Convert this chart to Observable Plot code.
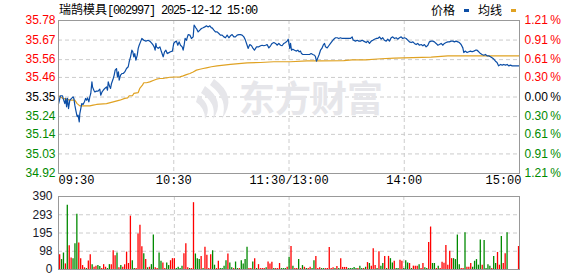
<!DOCTYPE html>
<html><head><meta charset="utf-8">
<script src="https://cdn.jsdelivr.net/npm/d3@7"></script>
<script src="https://cdn.jsdelivr.net/npm/@observablehq/plot@0.6"></script>
<style>
body{margin:0;background:#fff;}
#wrap{position:relative;width:578px;height:276px;overflow:hidden;font-family:"Liberation Sans",Arial,sans-serif;}
#main{position:absolute;left:0;top:0;}
#vol{position:absolute;left:0;top:190px;}
#title{position:absolute;left:59px;top:1px;line-height:16px;white-space:nowrap;color:#000;}
.cjk{font-family:"Noto Sans CJK SC",sans-serif;font-size:12px;}
.mono{font-family:"Liberation Mono",monospace;font-size:12px;letter-spacing:-1.2px;}
#legend{position:absolute;left:431px;top:2px;line-height:16px;white-space:nowrap;font-family:"Noto Sans CJK SC",sans-serif;font-size:12px;color:#000;}
#legend .sw{display:inline-block;width:5px;height:3px;vertical-align:middle;margin:0 9px 0 9px;position:relative;top:-1px;}
</style></head>
<body>
<div id="wrap">
  <div id="main"></div>
  <div id="vol"></div>
  <div id="title"></div>
  <div id="legend"></div>
</div>
<script>
// ---- data ----
const stockName = "瑞鹄模具";
const stockCode = "[002997]";
const stampText = " 2025-12-12 15:00";
const legendNames = ["价格", "均线"];
const prevClose = 35.35;

const priceTickValues = [35.78, 35.67, 35.56, 35.46, 35.35, 35.24, 35.14, 35.03, 34.92];
const priceTickLabels = ["35.78", "35.67", "35.56", "35.46", "35.35", "35.24", "35.14", "35.03", "34.92"];
const pctTickLabels = ["1.21\u2009%", "0.91\u2009%", "0.61\u2009%", "0.30\u2009%", "0.00\u2009%", "0.30\u2009%", "0.61\u2009%", "0.91\u2009%", "1.21\u2009%"];

const timeLabels = ["09:30", "10:30", "11:30/13:00", "14:00", "15:00"];
const timeLabelMinutes = [0, 60, 120, 180, 240];

const volTickValues = [390, 292.5, 195, 97.5, 0];
const volTickLabels = ["390", "293", "195", "98", "0"];

const priceMinutes = [0,1.0,2.1,2.4,3.3,3.8,4.2,4.7,5.2,5.9,6.8,7.6,8.0,8.5,9.0,9.7,10.2,10.8,11.1,11.6,12.1,12.8,13.5,14.1,14.6,15.1,15.8,16.3,16.8,17.4,17.7,18.4,18.9,19.8,20.6,21.5,22.0,22.7,23.3,24.1,25.0,25.5,25.9,26.4,26.7,27.1,27.6,28.5,29.0,29.5,30.2,30.7,31.2,31.6,32.3,33.0,33.7,34.5,35.4,36.3,36.8,37.5,38.2,38.7,39.2,39.7,40.3,41.0,41.5,42.0,42.7,43.4,44.4,45.5,46.7,47.9,48.6,49.3,49.8,50.3,50.7,51.0,51.9,52.8,53.6,54.5,55.2,55.9,56.6,57.3,58.3,59.3,60.0,60.7,61.4,62.1,62.8,63.5,64.4,64.9,65.4,65.9,66.6,67.5,68.4,69.2,70.1,70.6,71.5,71.8,72.7,73.6,74.4,75.3,76.2,77.0,77.9,78.8,79.6,80.0,80.9,81.7,82.6,83.5,84.3,85.2,86.1,86.9,87.8,88.7,89.5,90.4,91.3,92.1,93.0,93.9,94.7,95.6,96.5,97.3,98.2,98.7,99.6,100.5,101.3,102.0,103.1,104.3,105.2,106.0,106.9,107.8,108.6,109.5,110.4,111.2,112.1,113.0,113.8,114.7,115.6,116.4,117.3,118.2,119.0,119.6,120.1,120.4,120.8,121.3,122.0,122.9,123.7,124.6,125.3,126.0,126.5,127.2,128.1,129.4,130.7,131.5,132.4,133.3,133.8,134.3,135.0,135.7,136.4,137.1,137.8,138.5,139.0,139.9,140.7,141.6,142.5,143.3,144.2,145.1,145.9,146.8,147.7,148.5,152.0,152.9,153.4,154.6,155.5,156.4,157.2,158.1,158.9,160.2,161.0,161.9,162.8,163.6,164.5,165.4,166.2,167.1,168.0,168.8,169.7,170.6,171.4,172.3,173.2,174.0,174.9,175.8,176.6,177.5,178.4,179.2,180.1,181.0,181.8,182.7,183.6,184.5,185.3,186.2,187.0,187.9,188.8,189.7,190.5,191.4,192.3,193.1,194.0,194.9,195.7,196.6,197.5,198.3,199.2,200.1,200.9,201.8,202.7,203.5,204.4,205.3,206.1,207.0,207.9,208.7,209.6,210.5,211.0,211.7,212.7,213.6,214.5,215.3,216.2,217.1,217.9,218.8,219.7,220.5,221.4,222.3,223.1,224.0,224.9,225.7,226.6,227.5,228.3,229.1,230.1,231.0,231.8,232.7,233.6,234.4,235.3,236.2,240.0];
const priceValues = [35.31,35.357,35.357,35.342,35.313,35.342,35.295,35.342,35.285,35.332,35.342,35.351,35.342,35.304,35.276,35.239,35.248,35.210,35.257,35.285,35.313,35.308,35.323,35.342,35.332,35.345,35.323,35.351,35.370,35.435,35.407,35.388,35.379,35.383,35.383,35.394,35.360,35.379,35.388,35.398,35.407,35.388,35.435,35.417,35.407,35.398,35.426,35.454,35.473,35.501,35.510,35.463,35.491,35.445,35.473,35.482,35.482,35.491,35.510,35.520,35.548,35.576,35.613,35.604,35.576,35.594,35.557,35.585,35.623,35.641,35.660,35.679,35.669,35.664,35.669,35.660,35.651,35.641,35.632,35.613,35.651,35.632,35.623,35.632,35.604,35.576,35.604,35.613,35.594,35.598,35.604,35.608,35.651,35.660,35.664,35.641,35.660,35.641,35.632,35.613,35.641,35.679,35.669,35.701,35.698,35.679,35.688,35.754,35.739,35.735,35.716,35.726,35.735,35.739,35.744,35.750,35.744,35.750,35.739,35.739,35.726,35.716,35.716,35.707,35.698,35.698,35.688,35.683,35.698,35.683,35.694,35.701,35.688,35.688,35.698,35.701,35.701,35.698,35.688,35.670,35.641,35.623,35.645,35.638,35.623,35.613,35.632,35.632,35.638,35.641,35.638,35.641,35.645,35.626,35.638,35.651,35.656,35.651,35.641,35.651,35.641,35.638,35.651,35.656,35.664,35.675,35.641,35.623,35.651,35.613,35.619,35.613,35.608,35.613,35.604,35.608,35.594,35.589,35.589,35.589,35.589,35.594,35.589,35.585,35.576,35.551,35.570,35.589,35.613,35.623,35.641,35.651,35.632,35.626,35.638,35.651,35.664,35.675,35.683,35.683,35.679,35.683,35.679,35.679,35.679,35.688,35.670,35.664,35.669,35.664,35.664,35.669,35.664,35.656,35.664,35.651,35.664,35.669,35.675,35.679,35.679,35.688,35.675,35.683,35.669,35.664,35.675,35.664,35.683,35.688,35.679,35.683,35.675,35.683,35.688,35.679,35.683,35.679,35.670,35.660,35.656,35.660,35.651,35.645,35.651,35.641,35.645,35.638,35.645,35.632,35.641,35.660,35.664,35.664,35.660,35.651,35.641,35.645,35.651,35.641,35.651,35.656,35.660,35.660,35.664,35.664,35.660,35.664,35.660,35.656,35.645,35.626,35.600,35.608,35.600,35.604,35.608,35.604,35.608,35.613,35.613,35.604,35.594,35.589,35.585,35.589,35.581,35.581,35.576,35.570,35.563,35.551,35.544,35.525,35.533,35.529,35.533,35.529,35.533,35.525,35.529,35.525,35.525];

const avgMinutes = [0,2.4,5.9,8.5,9.7,11.1,16.3,18.0,19.8,25.0,28.5,31.9,34.5,36.0,36.8,38.5,39.2,41.5,42.3,43.7,44.4,45.8,47.5,49.3,51.0,52.8,54.5,56.2,58.0,63.2,64.9,66.6,68.4,70.1,71.8,73.6,75.3,77.0,79.6,82.6,89.5,98.2,105.2,112.1,120.8,129.4,136.4,148.5,152.9,159.8,168.0,174.9,194.0,202.7,240];
const avgValues = [35.357,35.342,35.332,35.332,35.313,35.300,35.300,35.304,35.308,35.313,35.323,35.332,35.342,35.345,35.357,35.357,35.370,35.375,35.398,35.417,35.430,35.430,35.435,35.443,35.450,35.454,35.454,35.458,35.461,35.463,35.469,35.476,35.482,35.491,35.501,35.506,35.510,35.514,35.520,35.525,35.533,35.542,35.544,35.548,35.548,35.553,35.553,35.555,35.559,35.559,35.565,35.568,35.574,35.581,35.581];

// per-minute volume (minute 0..240) and direction (1 up, -1 down)
const volumes = [79,53,88,30,343,127,61,58,137,295,141,58,21,9,5,46,79,26,12,18,21,16,5,26,12,5,26,26,100,74,88,9,21,12,26,93,32,285,47,5,5,190,237,121,84,53,9,12,26,184,9,5,88,44,35,5,35,21,47,58,58,5,12,5,18,84,137,9,5,5,357,83,58,53,70,5,119,76,5,79,100,23,5,44,5,5,18,47,83,35,9,5,40,5,5,47,30,53,119,5,5,40,58,5,26,5,5,5,9,40,30,39,5,5,5,32,5,5,5,12,65,
123,18,5,5,53,5,21,12,5,5,12,5,47,70,5,9,5,5,5,5,118,5,9,5,16,5,58,11,11,11,5,5,5,11,5,5,18,5,5,12,37,32,18,111,21,5,95,18,32,70,5,70,58,35,44,5,5,49,44,5,47,35,32,5,18,18,18,26,5,32,9,5,144,227,32,32,5,18,5,39,33,128,23,97,58,58,53,184,26,5,5,197,12,12,32,12,44,53,23,158,23,155,5,26,18,5,70,32,91,23,176,32,84,197,
0,0,0,0,0,123];
const volumeDirs = [1,-1,-1,1,-1,1,1,-1,-1,-1,1,1,1,1,-1,1,1,-1,1,1,-1,-1,1,1,1,-1,-1,1,1,1,-1,1,-1,1,1,1,1,1,-1,-1,1,1,1,1,-1,1,-1,1,-1,-1,1,1,-1,-1,1,1,-1,-1,1,1,1,-1,-1,-1,-1,1,1,1,-1,1,1,-1,-1,-1,1,-1,1,1,1,1,-1,-1,1,1,-1,-1,-1,-1,1,-1,-1,1,-1,-1,1,-1,-1,-1,-1,1,1,-1,1,-1,1,1,1,1,-1,1,1,1,-1,1,1,1,-1,-1,-1,1,-1,
1,-1,1,1,-1,1,-1,1,-1,1,1,-1,-1,1,1,1,-1,-1,1,1,1,1,1,-1,1,-1,1,1,1,1,-1,-1,-1,-1,-1,1,-1,-1,1,-1,1,-1,1,1,1,-1,1,-1,-1,1,-1,1,-1,-1,1,-1,-1,1,1,-1,-1,-1,1,-1,1,1,1,-1,1,1,-1,-1,1,1,-1,-1,1,-1,1,1,1,1,1,1,1,-1,-1,-1,-1,1,1,-1,1,1,1,-1,-1,-1,-1,-1,1,-1,-1,-1,-1,1,-1,-1,1,1,-1,1,1,-1,
1,1,1,1,1,1];

// ---- styles ----
const UP = "#ff0000", DOWN = "#008a00", FLAT = "#000000";
const PRICE_COLOR = "#0c4ea6", AVG_COLOR = "#e0a222";
const GRID = "#cccccc", FRAME = "#999999";

const priceData = priceMinutes.map((m, i) => ({m, v: priceValues[i]}));
const avgData = avgMinutes.map((m, i) => ({m, v: avgValues[i]}));
const volData = volumes.map((v, i) => ({m: i, v, d: volumeDirs[i]}));
const tickColor = v => v > prevClose + 1e-9 ? UP : (v < prevClose - 1e-9 ? DOWN : FLAT);

// title & legend
document.getElementById("title").innerHTML =
  `<span class="cjk">${stockName}</span><span class="mono">${stockCode}${stampText.replace(/ /g, "&nbsp;")}</span>`;
document.getElementById("legend").innerHTML =
  `<span>${legendNames[0]}</span><span class="sw" style="background:${PRICE_COLOR}"></span><span>${legendNames[1]}</span><span class="sw" style="background:${AVG_COLOR}"></span>`;

const gridMinutes = timeLabelMinutes.slice(1, -1);
const tFont = {fontSize: 12, fontFamily: "Liberation Mono", fill: "#000", ariaLabel: "tlab", frameAnchor: "bottom", dy: 10};

const main = Plot.plot({
  width: 578, height: 190,
  marginTop: 20, marginBottom: 17, marginLeft: 58, marginRight: 59,
  x: {domain: [0, 240], axis: null},
  y: {domain: [34.92, 35.78], axis: null},
  style: {overflow: "visible", background: "transparent"},
  marks: [
    Plot.ruleY(priceTickValues.slice(1, -1), {stroke: GRID, strokeDasharray: "4,3"}),
    Plot.ruleX(gridMinutes, {stroke: GRID, strokeDasharray: "4,3"}),
    Plot.text(["东方财富"], {frameAnchor: "middle", dx: 22, dy: 3, fontSize: 36, fontWeight: "bold",
      fontFamily: "Noto Sans CJK SC", fill: "#e6e6ea"}),
    Plot.line(avgData, {x: "m", y: "v", stroke: AVG_COLOR, strokeWidth: 1.2}),
    Plot.line(priceData, {x: "m", y: "v", stroke: PRICE_COLOR, strokeWidth: 1.2}),
    Plot.frame({stroke: FRAME}),
    Plot.text(priceTickValues, {y: d => d, text: (d, i) => priceTickLabels[i], fill: d => tickColor(d),
      frameAnchor: "left", textAnchor: "end", dx: -3, fontSize: 12, fontFamily: "Liberation Sans"}),
    Plot.text(priceTickValues, {y: d => d, text: (d, i) => pctTickLabels[i], fill: d => tickColor(d),
      frameAnchor: "right", textAnchor: "start", dx: 5, fontSize: 12, fontFamily: "Liberation Sans"}),
    Plot.text([0], {x: d => timeLabelMinutes[d], text: d => timeLabels[d], textAnchor: "start", ...tFont}),
    Plot.text([1, 2, 3], {x: d => timeLabelMinutes[d], text: d => timeLabels[d], textAnchor: "middle", ...tFont}),
    Plot.text([4], {x: d => timeLabelMinutes[d], text: d => timeLabels[d], textAnchor: "end", dx: 2, ...tFont})
  ]
});
d3.select(main).selectAll('g[aria-label="tlab"] text').style("letter-spacing", "-1.2px");

// watermark swoosh icon (decorative)
const wm = d3.select(main).insert("g", 'g[aria-label="line"]').attr("fill", "#e6e6ea");
wm.append("path").attr("d", "M214 79 Q238 96 222 119 Q229 99 210 85 Z");
wm.append("path").attr("d", "M205 86 Q226 101 213 119 Q217 103 201 93 Z");
wm.append("path").attr("d", "M198 95 Q213 106 205 119 Q205 108 196 102 Z");

document.getElementById("main").appendChild(main);

const vol = Plot.plot({
  width: 578, height: 86,
  marginTop: 6, marginBottom: 7, marginLeft: 58, marginRight: 59,
  x: {domain: [-0.6, 240.5], axis: null},
  y: {domain: [0, 390], axis: null},
  style: {overflow: "visible", background: "transparent"},
  marks: [
    Plot.ruleY(volTickValues.slice(1, -1), {stroke: GRID, strokeDasharray: "4,3"}),
    Plot.ruleX(gridMinutes, {stroke: GRID, strokeDasharray: "4,3"}),
    Plot.ruleX(volData.filter(d => d.v > 0), {x: "m", y1: 0, y2: "v",
      stroke: d => d.d > 0 ? UP : DOWN, strokeWidth: 1.3}),
    Plot.frame({stroke: FRAME}),
    Plot.text(volTickValues, {y: d => d, text: (d, i) => volTickLabels[i], frameAnchor: "left",
      textAnchor: "end", dx: -6, fontSize: 12, fontFamily: "Liberation Sans", fill: "#1a1a2a"})
  ]
});
document.getElementById("vol").appendChild(vol);
</script>
</body></html>
